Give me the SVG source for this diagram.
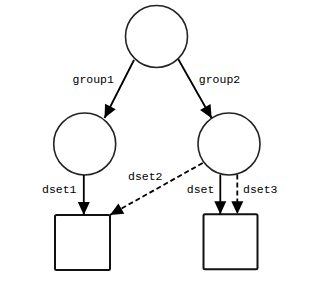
<svg xmlns="http://www.w3.org/2000/svg" width="324" height="288" viewBox="0 0 324 288">
<style>
.node{fill:#fff;stroke:#222;stroke-width:1.6}
.box{fill:#fff;stroke:#111;stroke-width:2}
.edge{fill:none;stroke:#000;stroke-width:1.8}
.dash{stroke-dasharray:5,3}
.lbl{font-family:"Liberation Mono","Courier New",monospace;font-size:11.5px;fill:#000}
</style>
<defs>
<marker id="ah" markerUnits="userSpaceOnUse" markerWidth="14" markerHeight="12" refX="13" refY="6" orient="auto" overflow="visible">
<path d="M0,0 L13,6 L0,12 z" fill="#000"/>
</marker>
</defs>
<g id="n-root"><circle class="node" cx="156.5" cy="36.5" r="31"/></g>
<g id="n-group1"><circle class="node" cx="84.7" cy="144" r="31"/></g>
<g id="n-group2"><circle class="node" cx="229" cy="144" r="31"/></g>
<g id="n-box1"><rect class="box" x="55" y="215" width="55" height="55" rx="1.5"/></g>
<g id="n-box2"><rect class="box" x="203.5" y="214.3" width="54" height="55" rx="1.5"/></g>
<g id="edges">
<line class="edge" x1="134" y1="60" x2="104.5" y2="118" marker-end="url(#ah)"/>
<line class="edge" x1="178.3" y1="59.3" x2="211.7" y2="118.3" marker-end="url(#ah)"/>
<line class="edge" x1="83.8" y1="175" x2="83.8" y2="215" marker-end="url(#ah)"/>
<line class="edge dash" x1="202.7" y1="163" x2="110" y2="215" marker-end="url(#ah)"/>
<line class="edge" x1="220.3" y1="174.5" x2="220.3" y2="214.3" marker-end="url(#ah)"/>
<line class="edge dash" x1="237.3" y1="174.5" x2="237.3" y2="214.3" marker-end="url(#ah)"/>
</g>
<g id="labels">
<text class="lbl" x="72.5" y="83">group1</text>
<text class="lbl" x="198.8" y="83">group2</text>
<text class="lbl" x="42" y="193">dset1</text>
<text class="lbl" x="128" y="179.5">dset2</text>
<text class="lbl" x="186.8" y="193">dset</text>
<text class="lbl" x="243" y="193">dset3</text>
</g>
</svg>
